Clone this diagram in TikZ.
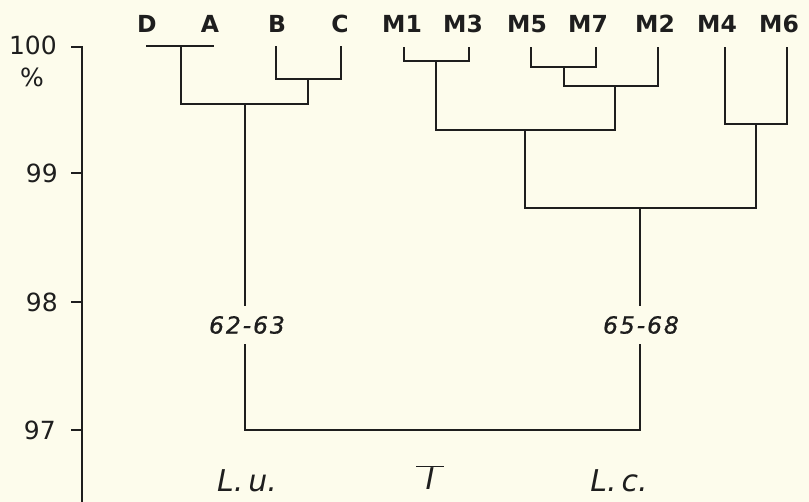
\documentclass[tikz,border=0pt]{standalone}
\usepackage{fontspec}
\newfontfamily\dv{DejaVu Sans}
\newfontfamily\dvb{DejaVu Sans Bold}
\newfontfamily\dvo{DejaVu Sans Oblique}
\newfontfamily\dvols[LetterSpace=8,FakeBold=0.8]{DejaVu Sans Oblique}
\definecolor{bgcol}{HTML}{FDFCEC}
\definecolor{ink}{HTML}{1E1E1E}
\tikzset{
  branch/.style={draw=ink, line width=2.1pt, line cap=rect, line join=miter},
  leaf/.style={font=\dvb\fontsize{23.5}{26}\selectfont, text=ink, inner sep=0pt},
  axisnum/.style={font=\dv\fontsize{25}{28}\selectfont, text=ink, inner sep=0pt, anchor=east},
  rangelbl/.style={font=\dvols\fontsize{23.5}{26}\selectfont, text=ink, inner xsep=0pt, inner ysep=11pt},
  grouplbl/.style={font=\dvo\fontsize{30}{34}\selectfont, text=ink, inner sep=0pt},
}
\begin{document}
\begin{tikzpicture}[x=1pt, y=-1pt]
\fill[bgcol] (0,0) rectangle (809,502);
\useasboundingbox (0,0) rectangle (809,502);

% axis
\coordinate (axTop) at (82,47);
\coordinate (axBot) at (82,502);
\coordinate (t100) at (72,47);
\coordinate (a99) at (82,173);  \coordinate (t99) at (72,173);
\coordinate (a98) at (82,302);  \coordinate (t98) at (72,302);
\coordinate (a97) at (82,430);  \coordinate (t97) at (72,430);
\draw[branch] (axTop) -- (axBot);
\draw[branch] (t100) -- (axTop);
\draw[branch] (t99) -- (a99);
\draw[branch] (t98) -- (a98);
\draw[branch] (t97) -- (a97);
\node[axisnum] (n100) at (57,45) {100};
\node[font=\dv\fontsize{25}{28}\selectfont, text=ink, inner sep=0pt] (npc) at (32,77) {\%};
\node[axisnum] (n99) at (58,173) {99};
\node[axisnum] (n98) at (58,302) {98};
\node[axisnum] (n97) at (56,430) {97};

% leaf labels
\node[leaf] (D) at (147,24) {D};
\node[leaf] (A) at (210,24) {A};
\node[leaf] (B) at (277,24) {B};
\node[leaf] (C) at (340,24) {C};
\node[leaf] (M1) at (402,24) {M1};
\node[leaf] (M3) at (463,24) {M3};
\node[leaf] (M5) at (527,24) {M5};
\node[leaf] (M7) at (588,24) {M7};
\node[leaf] (M2) at (655,24) {M2};
\node[leaf] (M4) at (717,24) {M4};
\node[leaf] (M6) at (779,24) {M6};

% left cluster
\coordinate (dTop) at (147,46);
\coordinate (aTop) at (213,46);
\coordinate (jDA) at (181,46);
\draw[branch] (dTop) -- (aTop);
\coordinate (bTop) at (276,47);
\coordinate (cTop) at (341,47);
\coordinate (jBC) at (308,79);
\draw[branch] (bTop) |- (jBC) -| (cTop);
\coordinate (jL) at (245,104);
\draw[branch] (jDA) |- (jL) -| (jBC);

% right cluster
\coordinate (m1Top) at (404,48);
\coordinate (m3Top) at (469,48);
\coordinate (jM13) at (436,61);
\draw[branch] (m1Top) |- (jM13) -| (m3Top);
\coordinate (m5Top) at (531,48);
\coordinate (m7Top) at (596,48);
\coordinate (jM57) at (564,67);
\draw[branch] (m5Top) |- (jM57) -| (m7Top);
\coordinate (m2Top) at (658,48);
\coordinate (jM572) at (615,86);
\draw[branch] (jM57) |- (jM572) -| (m2Top);
\coordinate (jM1357) at (525,130);
\draw[branch] (jM13) |- (jM1357) -| (jM572);
\coordinate (m4Top) at (725,48);
\coordinate (m6Top) at (787,48);
\coordinate (jM46) at (756,124);
\draw[branch] (m4Top) |- (jM46) -| (m6Top);
\coordinate (jR) at (640,208);
\draw[branch] (jM1357) |- (jR) -| (jM46);

% trunks and root
\node[rangelbl] (r1) at (247,325) {62-63};
\node[rangelbl] (r2) at (641,325) {65-68};
\coordinate (root) at (442,430);
\draw[branch] (jL) -- (jL |- r1.north);
\draw[branch] (jR) -- (jR |- r2.north);
\draw[branch] (jL |- r1.south) |- (root) -| (jR |- r2.south);

% group labels
\node[grouplbl] (Lu) at (247,481) {L.\kern5pt u.};
\node[grouplbl] (Ib) at (430,478) {$\overline{\hbox{\dvo\fontsize{30}{34}\selectfont\ I\ }}$};
\node[grouplbl] (Lc) at (619,481) {L.\kern5pt c.};
\end{tikzpicture}
\end{document}
